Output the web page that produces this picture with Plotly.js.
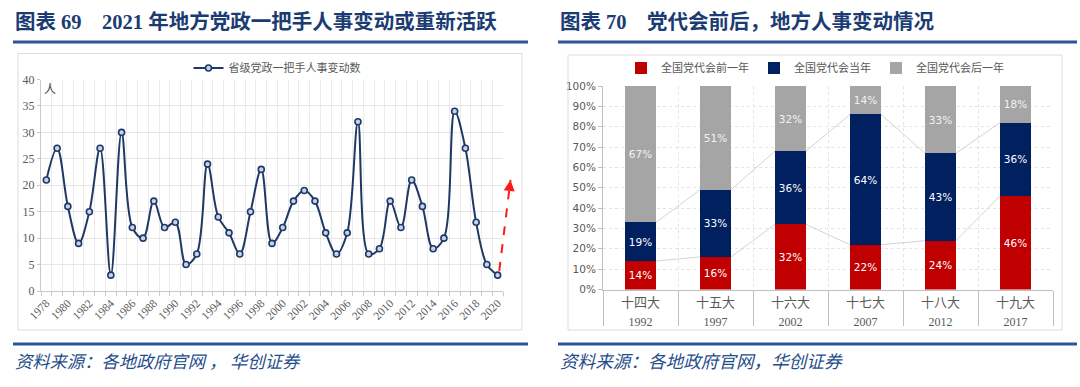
<!DOCTYPE html>
<html><head><meta charset="utf-8">
<script src="https://cdn.plot.ly/plotly-3.0.1.min.js"></script>
<style>html,body{margin:0;padding:0;background:#fff}#chart{width:1080px;height:387px}</style>
</head><body><div id="chart"></div>
<script>
// ---------- Data: left chart ----------
const years = [1978,1979,1980,1981,1982,1983,1984,1985,1986,1987,1988,1989,1990,1991,1992,1993,1994,1995,1996,1997,1998,1999,2000,2001,2002,2003,2004,2005,2006,2007,2008,2009,2010,2011,2012,2013,2014,2015,2016,2017,2018,2019,2020];
const changes = [21,27,16,9,15,27,3,30,12,10,17,12,13,5,7,24,14,11,7,15,23,9,12,17,19,17,11,7,11,32,7,8,17,12,21,16,8,10,34,27,13,5,3];
const yearTicks = [1978,1980,1982,1984,1986,1988,1990,1992,1994,1996,1998,2000,2002,2004,2006,2008,2010,2012,2014,2016,2018,2020];
const lineName = '省级党政一把手人事变动数';
const arrowX = [2020.15, 2021.2];
const arrowY = [3.8, 21];

// ---------- Data: right chart ----------
const congress = ['十四大','十五大','十六大','十七大','十八大','十九大'];
const congressYears = ['1992','1997','2002','2007','2012','2017'];
const yearBefore = [14,16,32,22,24,46];
const yearOf = [19,33,36,64,43,36];
const yearAfter = [67,51,32,14,33,18];
const seriesNames = ['全国党代会前一年','全国党代会当年','全国党代会后一年'];

// ---------- Texts ----------
const title1 = '图表\u00a069\u00a0\u00a0\u00a0\u00a02021\u00a0年地方党政一把手人事变动或重新活跃';
const title2 = '图表\u00a070\u00a0\u00a0\u00a0\u00a0党代会前后，地方人事变动情况';
const source1 = '资料来源：各地政府官网\u00a0，\u00a0华创证券';
const source2 = '资料来源：各地政府官网，华创证券';

const W = 1080, H = 387;
const px = x => x / W;
const py = y => 1 - y / H;

const navy = '#1F3864';
const gray = '#595959';
const titleBlue = '#1B3C73';
const lineBlue = '#2A5597';
const red = '#FF1A1A';

// left plot geometry
const xDom1 = [px(41), px(503)];
const yDom1 = [py(291), py(79.5)];
const xRange1 = [years[0] - 0.5, years[years.length - 1] + 0.5];
// overlay subplot for arrow extending past the plot area, same scale
const xDom3 = [px(41), px(525)];
const span1 = xRange1[1] - xRange1[0];
const xRange3 = [xRange1[0], xRange1[0] + span1 * (xDom3[1] - xDom3[0]) / (xDom1[1] - xDom1[0])];

const boundaries1 = [];
for (let i = 0; i <= years.length; i++) boundaries1.push(years[0] - 0.5 + i);

// right plot geometry
const xDom2 = [px(603), px(1053)];
const yDom2 = [py(289.5), py(86)];
const idx = congress.map((c, i) => i);
const bargap = 0.587;
const hw = (1 - bargap) / 2;
const boundaries2 = [];
for (let i = 0; i <= congress.length; i++) boundaries2.push(i - 0.5);
const tickText2 = congress.map((c, i) => '<span style="font-size:13px">' + c + '</span><br><span style="font-size:12px;font-family:Liberation Serif">' + congressYears[i] + '</span>');

// series lines between bar tops
const cum1 = yearBefore;
const cum2 = yearBefore.map((v, i) => v + yearOf[i]);
const slX = [], slY = [];
[cum1, cum2].forEach(cum => {
  for (let i = 0; i < cum.length - 1; i++) {
    slX.push(i + hw, i + 1 - hw, null);
    slY.push(cum[i], cum[i + 1], null);
  }
});

const traces = [
  {
    type: 'scatter', mode: 'lines+markers', name: lineName,
    x: years, y: changes, xaxis: 'x', yaxis: 'y', legend: 'legend',
    line: {color: navy, width: 2, shape: 'spline', smoothing: 1},
    marker: {symbol: 'circle', size: 6, color: '#C5D3EC', line: {color: navy, width: 1.6}},
    cliponaxis: false
  },
  {
    type: 'scatter', mode: 'lines', showlegend: false,
    x: arrowX, y: arrowY, xaxis: 'x3', yaxis: 'y3',
    line: {color: red, width: 2, dash: 'dash'},
    hoverinfo: 'skip'
  },
  {
    type: 'scatter', mode: 'lines', showlegend: false,
    x: slX, y: slY, xaxis: 'x2', yaxis: 'y2',
    line: {color: '#C8C8C8', width: 0.8}, hoverinfo: 'skip'
  }
];
const barColors = ['#C00000', '#002060', '#A5A5A5'];
const barText = ['#FFFFFF', '#FFFFFF', '#F2F2F2'];
[yearBefore, yearOf, yearAfter].forEach((vals, k) => {
  traces.push({
    type: 'bar', name: seriesNames[k], x: idx, y: vals, xaxis: 'x2', yaxis: 'y2',
    legend: 'legend2',
    marker: {color: barColors[k], line: {width: 0}},
    text: vals.map(v => v + '%'), textinfo: 'text', textposition: 'inside', insidetextanchor: 'middle',
    textangle: 0, constraintext: 'none',
    textfont: {family: 'DejaVu Sans', size: 10.5, color: barText[k]}
  });
});

const dxA = arrowX[1] - arrowX[0], dyA = arrowY[1] - arrowY[0];

const layout = {
  width: W, height: H,
  margin: {l: 0, r: 0, t: 0, b: 0},
  paper_bgcolor: '#FFFFFF', plot_bgcolor: 'rgba(0,0,0,0)',
  barmode: 'stack', bargap: bargap,
  showlegend: true,
  xaxis: {
    domain: xDom1, range: xRange1, type: 'linear',
    tickmode: 'array', tickvals: yearTicks, ticktext: yearTicks.map(String),
    tickangle: -45, ticks: '', showgrid: false, zeroline: false,
    showline: true, linecolor: '#C9C9C9', linewidth: 1,
    tickfont: {family: 'Liberation Serif', size: 11.5, color: gray},
    minor: {tickmode: 'array', tickvals: boundaries1, ticks: 'outside', ticklen: 4, tickcolor: '#C9C9C9', showgrid: true, gridcolor: '#EBEBEB', gridwidth: 1},
    fixedrange: true
  },
  yaxis: {
    domain: yDom1, range: [0, 40], dtick: 5, anchor: 'x',
    ticks: 'outside', ticklen: 3, tickcolor: '#C9C9C9',
    showline: true, linecolor: '#C9C9C9', linewidth: 1,
    showgrid: true, gridcolor: '#E6E6E6', zeroline: false,
    tickfont: {family: 'Liberation Serif', size: 12, color: gray},
    fixedrange: true
  },
  xaxis3: {domain: xDom3, range: xRange3, visible: false, anchor: 'y3', fixedrange: true},
  yaxis3: {domain: yDom1, range: [0, 40], visible: false, anchor: 'x3', fixedrange: true},
  xaxis2: {
    domain: xDom2, range: [-0.5, congress.length - 0.5], anchor: 'y2', type: 'linear',
    tickmode: 'array', tickvals: idx, ticktext: tickText2, ticks: '',
    showgrid: false, zeroline: false,
    showline: true, linecolor: '#BFBFBF', linewidth: 1,
    tickfont: {family: 'Noto Sans CJK SC', size: 14, color: gray},
    minor: {tickmode: 'array', tickvals: boundaries2, ticks: 'outside', ticklen: 35, tickcolor: '#BFBFBF', showgrid: true, gridcolor: '#E4E4E4', griddash: 'dot', gridwidth: 1},
    fixedrange: true
  },
  yaxis2: {
    domain: yDom2, range: [0, 100], dtick: 10, anchor: 'x2',
    ticksuffix: '%', ticks: 'outside', ticklen: 4, tickcolor: '#BFBFBF',
    showline: true, linecolor: '#BFBFBF', linewidth: 1,
    showgrid: true, gridcolor: '#E4E4E4', griddash: 'dot', zeroline: false,
    tickfont: {family: 'DejaVu Sans', size: 10.5, color: gray},
    fixedrange: true
  },
  legend: {
    orientation: 'h', x: px(277), xanchor: 'center', y: py(68), yanchor: 'middle',
    font: {family: 'Noto Sans CJK SC', size: 11, color: gray},
    bgcolor: 'rgba(0,0,0,0)', itemwidth: 30
  },
  legend2: {
    orientation: 'h', x: px(815), xanchor: 'center', y: py(68), yanchor: 'middle',
    font: {family: 'Noto Sans CJK SC', size: 11, color: gray},
    bgcolor: 'rgba(0,0,0,0)', itemwidth: 30, traceorder: 'normal'
  },
  shapes: [
    {type: 'rect', xref: 'paper', yref: 'paper', x0: px(18), x1: px(522), y0: py(330), y1: py(53.5), line: {color: '#DCDCDC', width: 1}},
    {type: 'rect', xref: 'paper', yref: 'paper', x0: px(568), x1: px(1062), y0: py(330), y1: py(55), line: {color: '#DCDCDC', width: 1}},
    {type: 'line', xref: 'paper', yref: 'paper', x0: px(13), x1: px(528), y0: py(42), y1: py(42), line: {color: lineBlue, width: 3}},
    {type: 'line', xref: 'paper', yref: 'paper', x0: px(558), x1: px(1077), y0: py(42), y1: py(42), line: {color: lineBlue, width: 3}},
    {type: 'line', xref: 'paper', yref: 'paper', x0: px(13), x1: px(528), y0: py(344), y1: py(344), line: {color: lineBlue, width: 3}},
    {type: 'line', xref: 'paper', yref: 'paper', x0: px(558), x1: px(1077), y0: py(344), y1: py(344), line: {color: lineBlue, width: 3}}
  ],
  annotations: [
    {text: '<b>' + title1 + '</b>', xref: 'paper', yref: 'paper', x: px(13), y: py(22), xanchor: 'left', yanchor: 'middle', showarrow: false,
     font: {family: 'Liberation Serif, Noto Sans CJK SC', size: 20.5, color: titleBlue}},
    {text: '<b>' + title2 + '</b>', xref: 'paper', yref: 'paper', x: px(558), y: py(22), xanchor: 'left', yanchor: 'middle', showarrow: false,
     font: {family: 'Liberation Serif, Noto Sans CJK SC', size: 20.5, color: titleBlue}},
    {text: '<i>' + source1 + '</i>', xref: 'paper', yref: 'paper', x: px(13), y: py(360), xanchor: 'left', yanchor: 'middle', showarrow: false,
     font: {family: 'Noto Sans CJK SC', size: 17.3, color: '#1F4E8C'}},
    {text: '<i>' + source2 + '</i>', xref: 'paper', yref: 'paper', x: px(558), y: py(360), xanchor: 'left', yanchor: 'middle', showarrow: false,
     font: {family: 'Noto Sans CJK SC', size: 17.6, color: '#1F4E8C'}},
    {text: '人', xref: 'paper', yref: 'paper', x: px(50), y: py(88), xanchor: 'center', yanchor: 'middle', showarrow: false,
     font: {family: 'Noto Sans CJK SC', size: 12, color: '#404040'}},
    {text: '', xref: 'x3', yref: 'y3', axref: 'x3', ayref: 'y3',
     x: arrowX[1], y: arrowY[1], ax: arrowX[1] - 0.12 * dxA, ay: arrowY[1] - 0.12 * dyA,
     showarrow: true, arrowhead: 2, arrowsize: 1.1, arrowwidth: 2, arrowcolor: red}
  ]
};

Plotly.newPlot('chart', traces, layout, {displayModeBar: false, staticPlot: true});
</script>
</body></html>
